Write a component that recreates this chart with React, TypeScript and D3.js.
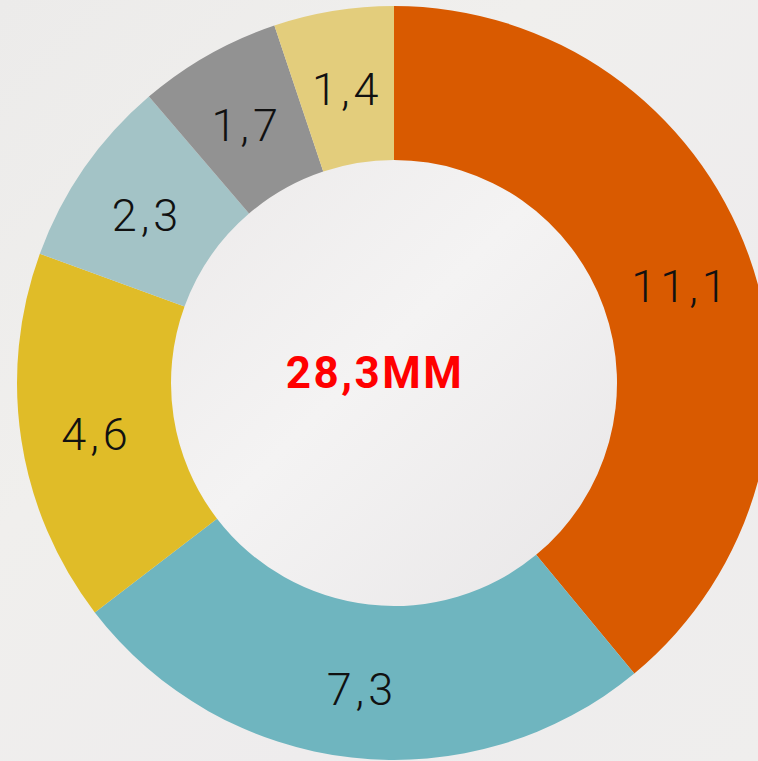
import React from "react";
import * as d3 from "d3";

const categories = ["A", "B", "C", "D", "E", "F"];
const values = [11.08, 7.27, 4.54, 2.32, 1.74, 1.46];
const labels = ["11,1", "7,3", "4,6", "2,3", "1,7", "1,4"];
const colors = ["#D95A00", "#6FB5BF", "#E0BC28", "#A3C3C6", "#929292", "#E3CD7C"];
const centerLabel = "28,3MM";

const W = 758;
const H = 761;
const cx = 394;
const cy = 383;
const outerR = 377;
const innerR = 223;

export default function App() {
  const pie = d3.pie<number>().sort(null).value((d) => d);
  const arcs = pie(values);
  const arc = d3.arc<d3.PieArcDatum<number>>().innerRadius(innerR).outerRadius(outerR);
  const labelArc = d3.arc<d3.PieArcDatum<number>>().innerRadius(303).outerRadius(303);

  return (
    <svg
      width={W}
      height={H}
      style={{ position: "fixed", left: 0, top: 0, display: "block" }}
    >
      <defs>
        <linearGradient id="bg" x1="0" y1="0" x2="1" y2="1">
          <stop offset="0%" stopColor="#ecebea" />
          <stop offset="35%" stopColor="#f0efed" />
          <stop offset="70%" stopColor="#eeeced" />
          <stop offset="100%" stopColor="#efeeed" />
        </linearGradient>
        <linearGradient id="inner" x1="0" y1="0" x2="1" y2="1">
          <stop offset="0%" stopColor="#eceaea" />
          <stop offset="45%" stopColor="#f4f3f3" />
          <stop offset="100%" stopColor="#e8e6e7" />
        </linearGradient>
      </defs>
      <rect x={0} y={0} width={W} height={H} fill="url(#bg)" />
      <circle cx={cx} cy={cy} r={innerR} fill="url(#inner)" />
      <g transform={`translate(${cx},${cy})`}>
        {arcs.map((a, i) => (
          <path key={categories[i]} d={arc(a) || ""} fill={colors[i]} />
        ))}
        {arcs.map((a, i) => {
          const [x, y] = labelArc.centroid(a);
          return (
            <text
              key={"l" + categories[i]}
              x={x + 2}
              y={y}
              dy="0.47em"
              textAnchor="middle"
              fontFamily="Roboto, sans-serif"
              fontWeight={300}
              fontSize={45}
              letterSpacing={4}
              fill="#111"
            >
              {labels[i]}
            </text>
          );
        })}
        <text
          x={-19}
          y={-11}
          dy="0.36em"
          textAnchor="middle"
          fontFamily="Roboto, sans-serif"
          fontWeight={700}
          fontSize={44}
          fill="#FF0000"
          letterSpacing={2.5}
        >
          {centerLabel}
        </text>
      </g>
    </svg>
  );
}
